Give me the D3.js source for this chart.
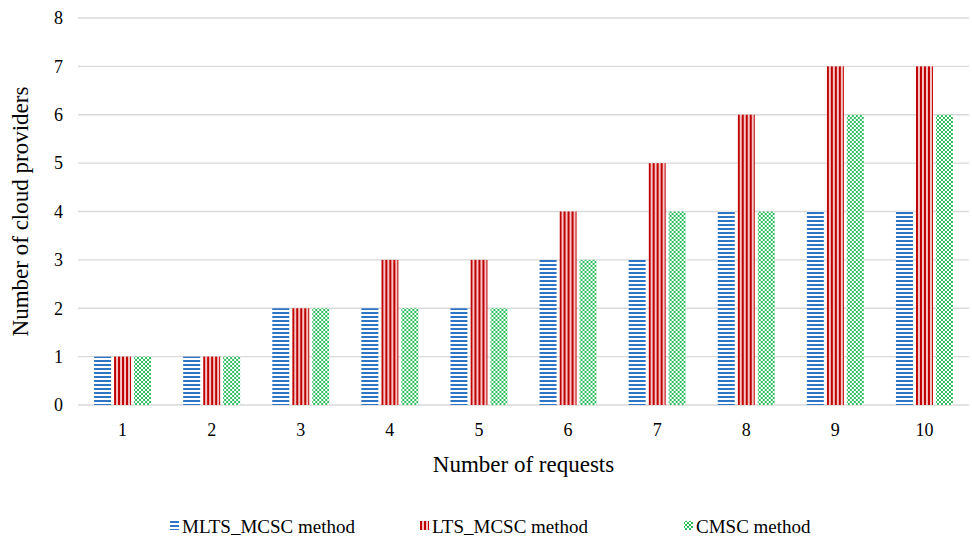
<!DOCTYPE html>
<html>
<head>
<meta charset="utf-8">
<script src="https://cdn.jsdelivr.net/npm/d3@7"></script>
<style>
  body { margin: 0; background: #fff; }
</style>
</head>
<body>
<div id="chart"></div>
<script>
// Data
const requests = ["1", "2", "3", "4", "5", "6", "7", "8", "9", "10"];
const seriesNames = ["MLTS_MCSC method", "LTS_MCSC method", "CMSC method"];
const mltsValues = [1, 1, 2, 2, 2, 3, 3, 4, 4, 4];
const ltsValues  = [1, 1, 2, 3, 3, 4, 5, 6, 7, 7];
const cmscValues = [1, 1, 2, 2, 2, 3, 4, 4, 6, 6];
const yTicks = [0, 1, 2, 3, 4, 5, 6, 7, 8];

const series = [mltsValues, ltsValues, cmscValues];
const patternIds = ["pat-blue", "pat-red", "pat-green"];
const font = "Liberation Serif, DejaVu Serif, Tinos, Times New Roman, serif";

const width = 972, height = 540;
const margin = { top: 18, right: 3, bottom: 135, left: 78 };

const svg = d3.select("#chart").append("svg")
    .attr("width", width)
    .attr("height", height)
    .style("font-family", font);

// Pattern fills (Excel-like)
const defs = svg.append("defs");

const pBlue = defs.append("pattern")
    .attr("id", "pat-blue").attr("patternUnits", "userSpaceOnUse")
    .attr("width", 4).attr("height", 4);
pBlue.append("rect").attr("width", 4).attr("height", 4).attr("fill", "#fff");
pBlue.append("rect").attr("y", 0).attr("width", 4).attr("height", 2).attr("fill", "#2E75C6");

const pRed = defs.append("pattern")
    .attr("id", "pat-red").attr("patternUnits", "userSpaceOnUse")
    .attr("width", 4).attr("height", 4);
pRed.append("rect").attr("width", 4).attr("height", 4).attr("fill", "#F5C6C6");
pRed.append("rect").attr("x", 0).attr("width", 2).attr("height", 4).attr("fill", "#C00000");

const pGreen = defs.append("pattern")
    .attr("id", "pat-green").attr("patternUnits", "userSpaceOnUse")
    .attr("width", 8).attr("height", 8);
pGreen.append("rect").attr("width", 8).attr("height", 8).attr("fill", "#fff");
pGreen.append("path")
    .attr("d", "M0,2 L2,0 L4,2 L6,0 L8,2 M0,2 L2,4 L4,2 M0,6 L2,4 L4,6 L6,4 L8,6 M4,2 L6,4 L8,2 M0,6 L2,8 L4,6 L6,8 L8,6")
    .attr("stroke", "#2DBE5E").attr("stroke-width", 1).attr("fill", "none");

// Scales
const x0 = d3.scaleBand()
    .domain(requests)
    .range([margin.left, width - margin.right]);

const x1 = d3.scaleBand()
    .domain(d3.range(series.length))
    .range([0, 57])
    .paddingInner(0.15);

const y = d3.scaleLinear()
    .domain([0, 8])
    .range([height - margin.bottom, margin.top]);

// Gridlines
svg.append("g")
    .selectAll("line")
    .data(yTicks)
    .enter().append("line")
    .attr("x1", margin.left)
    .attr("x2", width - margin.right)
    .attr("y1", d => y(d))
    .attr("y2", d => y(d))
    .attr("stroke", "#d9d9d9")
    .attr("stroke-width", 1.3);

// Y tick labels
svg.append("g")
    .selectAll("text")
    .data(yTicks)
    .enter().append("text")
    .attr("x", 63)
    .attr("y", d => y(d))
    .attr("dy", "0.35em")
    .attr("text-anchor", "end")
    .attr("font-size", 18)
    .text(d => d);

// Bars
const groups = svg.append("g")
    .selectAll("g")
    .data(requests)
    .enter().append("g")
    .attr("transform", d => `translate(${x0(d) + (x0.bandwidth() - 57) / 2},0)`);

groups.selectAll("rect")
    .data((d, i) => series.map((s, k) => ({ k: k, v: s[i] })))
    .enter().append("rect")
    .attr("x", d => x1(d.k))
    .attr("width", x1.bandwidth())
    .attr("y", d => y(d.v))
    .attr("height", d => y(0) - y(d.v))
    .attr("fill", d => `url(#${patternIds[d.k]})`);

// X tick labels
svg.append("g")
    .selectAll("text")
    .data(requests)
    .enter().append("text")
    .attr("x", d => x0(d) + x0.bandwidth() / 2)
    .attr("y", 436)
    .attr("text-anchor", "middle")
    .attr("font-size", 18)
    .text(d => d);

// Axis titles
svg.append("text")
    .attr("x", (margin.left + width - margin.right) / 2)
    .attr("y", 472)
    .attr("text-anchor", "middle")
    .attr("font-size", 23)
    .text("Number of requests");

svg.append("text")
    .attr("transform", `translate(28,${(y(0) + y(8)) / 2}) rotate(-90)`)
    .attr("text-anchor", "middle")
    .attr("font-size", 23)
    .text("Number of cloud providers");

// Legend
const legendX = [170, 420, 684];
const legend = svg.append("g")
    .selectAll("g")
    .data(seriesNames)
    .enter().append("g")
    .attr("transform", (d, i) => `translate(${legendX[i]},533)`);

legend.append("rect")
    .attr("x", 0)
    .attr("y", -12)
    .attr("width", 9)
    .attr("height", 9)
    .attr("fill", (d, i) => `url(#${patternIds[i]})`);

legend.append("text")
    .attr("x", 12)
    .attr("y", 0)
    .attr("font-size", 19)
    .text(d => d);
</script>
</body>
</html>
